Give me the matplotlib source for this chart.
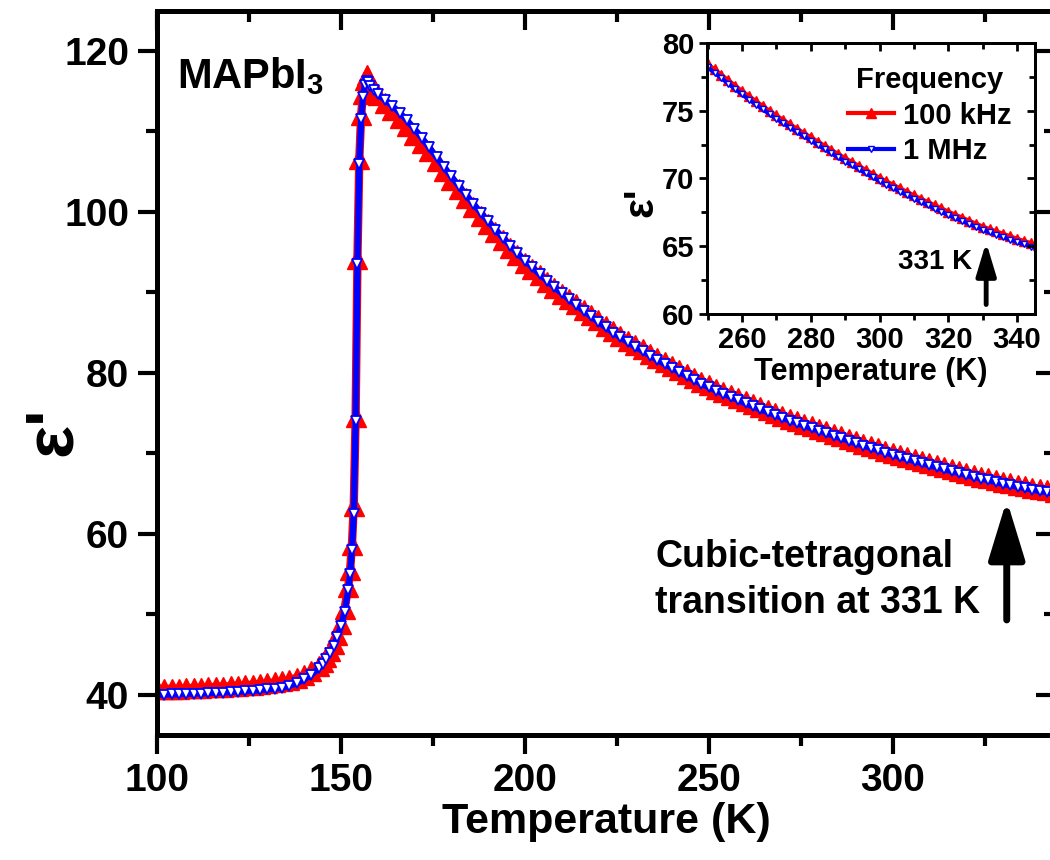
import matplotlib
matplotlib.use('Agg')
import matplotlib.pyplot as plt

# temperature sweep (K)
temperature = [
    100, 102, 104, 106, 108, 110, 112, 114, 116, 118, 120, 122, 124, 126, 128, 130,
    132, 134, 136, 138, 140, 142, 144,
    145, 146, 147, 148, 149, 150, 151, 152, 152.5, 153, 153.5, 154, 154.5, 155, 155.5,
    156, 156.5, 157, 157.5, 158, 159, 160,
    162, 164, 166, 168, 170, 172, 174, 176, 178, 180, 182, 184, 186, 188, 190, 192,
    194, 196, 198, 200, 202, 204, 206, 208, 210, 212, 214, 216, 218, 220, 222, 224,
    226, 228, 230, 232, 234, 236, 238, 240, 242, 244, 246, 248, 250,
    252, 254, 256, 258, 260, 262, 264, 266, 268, 270, 272, 274, 276, 278, 280, 282,
    284, 286, 288, 290, 292, 294, 296, 298, 300, 302, 304, 306, 308, 310, 312, 314,
    316, 318, 320, 322, 324, 326, 328, 330, 332, 334, 336, 338, 340, 342, 344, 346,
]

# epsilon' at 100 kHz
eps_100khz = [
    40.70, 40.72, 40.75, 40.78, 40.81, 40.85, 40.89, 40.93, 40.97, 41.02, 41.07, 41.13,
    41.19, 41.26, 41.34, 41.43, 41.54, 41.67, 41.85, 42.10, 42.45, 42.95, 43.60,
    44.10, 44.70, 45.40, 46.30, 47.40, 48.80, 50.70, 53.40, 55.50, 58.60, 63.50, 74.50,
    94.20, 106.50, 112.00, 114.60, 116.40, 117.00, 116.60, 115.90, 115.20, 114.50,
    113.5, 112.6, 111.6, 110.6, 109.6, 108.6, 107.5, 106.3, 105.1, 103.9,
    102.8, 101.7, 100.6, 99.5, 98.5, 97.5, 96.5, 95.5, 94.6, 93.7,
    92.9, 92.1, 91.3, 90.5, 89.8, 89.2, 88.5, 87.8, 87.15, 86.5,
    85.85, 85.2, 84.6, 84.0, 83.45, 82.9, 82.35, 81.8, 81.3, 80.8,
    80.3, 79.8, 79.3, 78.85, 78.45,
    78.05, 77.65, 77.25, 76.85, 76.45, 76.08, 75.71, 75.35, 75.0, 74.65,
    74.32, 73.99, 73.67, 73.35, 73.05, 72.73, 72.42, 72.11, 71.8, 71.5,
    71.21, 70.92, 70.63, 70.34, 70.05, 69.79, 69.53, 69.27, 69.01, 68.75,
    68.51, 68.27, 68.03, 67.79, 67.55, 67.33, 67.11, 66.89, 66.67, 66.45,
    66.27, 66.09, 65.91, 65.73, 65.55, 65.39, 65.23, 65.1,
]

# epsilon' at 1 MHz
eps_1mhz = [
    40.00, 40.02, 40.05, 40.07, 40.10, 40.13, 40.16, 40.20, 40.24, 40.28, 40.33, 40.38,
    40.44, 40.50, 40.58, 40.66, 40.76, 40.88, 41.10, 41.45, 41.90, 42.50, 43.30,
    43.80, 44.50, 45.20, 46.10, 47.20, 48.50, 50.30, 53.00, 55.00, 58.00, 62.50, 74.00,
    93.50, 106.00, 111.50, 114.30, 115.80, 116.30, 116.10, 115.60, 115.10, 114.60,
    113.9, 113.15, 112.3, 111.35, 110.3, 109.2, 108.0, 106.8, 105.6, 104.4,
    103.25, 102.1, 101.0, 99.9, 98.85, 97.8, 96.8, 95.8, 94.85, 93.95,
    93.1, 92.25, 91.45, 90.65, 89.9, 89.15, 88.4, 87.7, 87.0, 86.3,
    85.65, 85.0, 84.4, 83.8, 83.25, 82.7, 82.15, 81.6, 81.1, 80.6,
    80.1, 79.6, 79.1, 78.65, 78.2,
    77.8, 77.4, 77.0, 76.6, 76.2, 75.83, 75.46, 75.1, 74.75, 74.4,
    74.07, 73.74, 73.42, 73.1, 72.8, 72.48, 72.17, 71.86, 71.55, 71.25,
    70.96, 70.67, 70.38, 70.09, 69.8, 69.54, 69.28, 69.02, 68.76, 68.5,
    68.26, 68.02, 67.78, 67.54, 67.3, 67.08, 66.86, 66.64, 66.42, 66.2,
    66.02, 65.84, 65.66, 65.48, 65.3, 65.14, 64.98, 64.85,
]

plt.rcParams['font.family'] = ['Liberation Sans', 'DejaVu Sans']
plt.rcParams['font.weight'] = 'bold'
plt.rcParams['axes.labelweight'] = 'bold'
plt.rcParams['mathtext.fontset'] = 'custom'
plt.rcParams['mathtext.rm'] = 'Liberation Sans:bold'
plt.rcParams['mathtext.bf'] = 'Liberation Sans:bold'


def draw_curves(axis, ms_red, ms_blue, lw_red, lw_blue, mew_blue):
    red, = axis.plot(temperature, eps_100khz, color='red', marker='^', ms=ms_red,
                     mfc='red', mec='red', lw=lw_red, label='100 kHz', zorder=2)
    blue, = axis.plot(temperature, eps_1mhz, color='blue', marker='v', ms=ms_blue,
                      mfc='white', mec='blue', mew=mew_blue, lw=lw_blue,
                      label='1 MHz', zorder=3)
    return red, blue


def mirror_ticks(axis, xmaj, xmin, ymaj, ymin, length, width):
    # top / right ticks point inward, no labels
    top = axis.twiny()
    top.set_xlim(axis.get_xlim())
    top.set_xticks(xmaj)
    top.set_xticks(xmin, minor=True)
    top.tick_params(which='both', direction='in', labeltop=False, width=width)
    top.tick_params(which='major', length=length[0])
    top.tick_params(which='minor', length=length[1])
    right = axis.twinx()
    right.set_ylim(axis.get_ylim())
    right.set_yticks(ymaj)
    right.set_yticks(ymin, minor=True)
    right.tick_params(which='both', direction='in', labelright=False, width=width)
    right.tick_params(which='major', length=length[0])
    right.tick_params(which='minor', length=length[1])
    for a in (top, right):
        for s in a.spines.values():
            s.set_linewidth(axis.spines['left'].get_linewidth())


fig = plt.figure(figsize=(10.5, 8.6), dpi=100)

# main panel
ax = fig.add_axes([0.1495, 0.1453, 0.8552, 0.8424])
draw_curves(ax, 14, 7.5, 6, 4.5, 1.3)
ax.set_xlim(100, 344.1)
ax.set_ylim(35, 125)
ax.set_xticks([100, 150, 200, 250, 300])
ax.set_xticks([125, 175, 225, 275, 325], minor=True)
ax.set_yticks([40, 60, 80, 100, 120])
ax.set_yticks([50, 70, 90, 110], minor=True)
ax.tick_params(which='both', direction='out', width=3, labelsize=28, pad=6)
ax.tick_params(which='major', length=14)
ax.tick_params(which='minor', length=8)
for s in ax.spines.values():
    s.set_linewidth(3.5)
ax.set_xlabel('Temperature (K)', fontsize=31, labelpad=2)
ax.set_ylabel("ε'", fontsize=50)
ax.yaxis.set_label_coords(-0.08, 0.42)
mirror_ticks(ax, [100, 150, 200, 250, 300], [125, 175, 225, 275, 325],
             [40, 60, 80, 100, 120], [50, 70, 90, 110], (14, 8), 3)

ax.text(105.4, 115.4, r'MAPbI$_\mathbf{3}$', fontsize=30, va='baseline')
ax.text(235.5, 54.3, 'Cubic-tetragonal\ntransition at 331 K', fontsize=27,
        ha='left', va='center', multialignment='left', linespacing=1.35)
ax.annotate('', xy=(331, 64.2), xytext=(331, 49.3),
            arrowprops=dict(arrowstyle='-|>,head_length=1.8,head_width=0.55',
                            lw=5, color='black', mutation_scale=20,
                            shrinkA=0, shrinkB=0, capstyle='round'))

# inset
axin = fig.add_axes([0.6733, 0.6349, 0.3124, 0.3151])
red, blue = draw_curves(axin, 7, 4.5, 3, 3, 1.0)
axin.set_xlim(249.8, 345.2)
axin.set_ylim(60, 80)
axin.set_xticks([260, 280, 300, 320, 340])
axin.set_xticks([250, 270, 290, 310, 330], minor=True)
axin.set_yticks([60, 65, 70, 75, 80])
axin.set_yticks([62.5, 67.5, 72.5, 77.5], minor=True)
axin.tick_params(which='both', direction='out', width=2, labelsize=21, pad=3)
axin.tick_params(which='major', length=6)
axin.tick_params(which='minor', length=4)
for s in axin.spines.values():
    s.set_linewidth(2)
axin.set_xlabel('Temperature (K)', fontsize=22, labelpad=2)
axin.set_ylabel("ε'", fontsize=30)
axin.yaxis.set_label_coords(-0.14, 0.413)
mirror_ticks(axin, [260, 280, 300, 320, 340], [250, 270, 290, 310, 330],
             [60, 65, 70, 75, 80], [62.5, 67.5, 72.5, 77.5], (6, 4), 2)

axin.legend(handles=[red, blue], title='Frequency', loc='upper right', frameon=False,
            prop={'weight': 'bold', 'size': 21},
            title_fontproperties={'weight': 'bold', 'size': 21},
            handlelength=1.6, handletextpad=0.3, borderaxespad=0.4,
            labelspacing=0.25, numpoints=1)
axin.text(316.0, 63.86, '331 K', fontsize=20, ha='center', va='center')
axin.annotate('', xy=(331, 65.3), xytext=(331, 60.7),
              arrowprops=dict(arrowstyle='-|>,head_length=2.0,head_width=0.6',
                              lw=3.5, color='black', mutation_scale=10,
                              shrinkA=0, shrinkB=0, capstyle='round'))

fig.savefig('out.png', dpi=100)
